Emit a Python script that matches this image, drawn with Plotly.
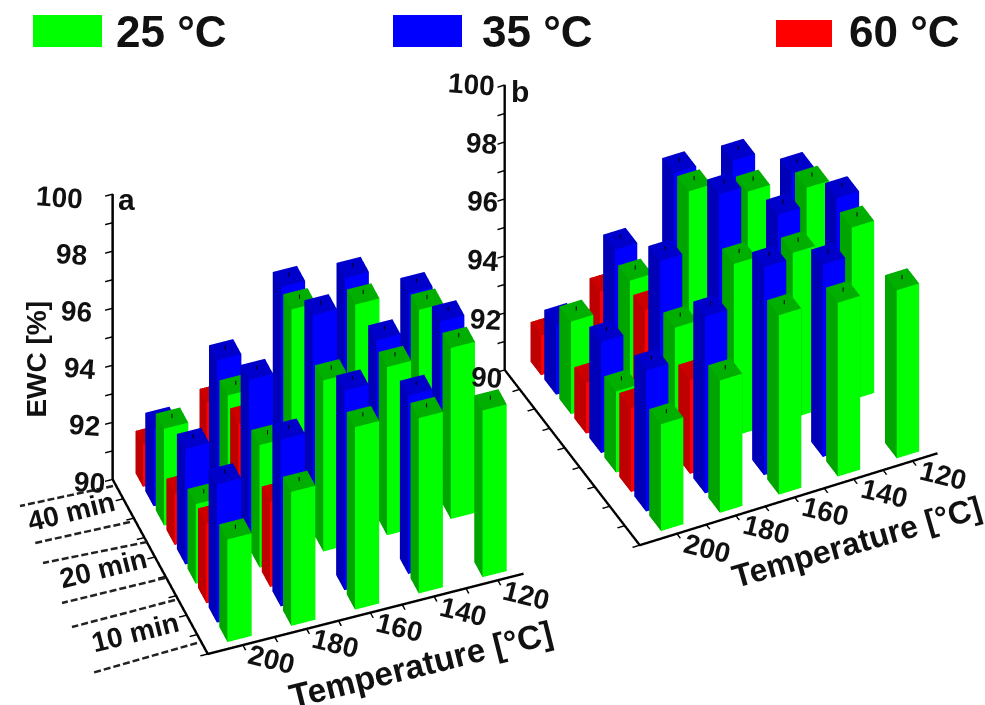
import plotly.graph_objects as go

temperatures = [200, 180, 160, 140, 120]
times = ["10 min", "20 min", "40 min"]
series_names = ["25 °C", "35 °C", "60 °C"]
z_ticks = [90, 92, 94, 96, 98, 100]

# EWC [%], rows = time (10, 20, 40 min), columns = temperature
a_25 = [[93.6, 94.7, 96.4, 96.15, 95.85],
        [92.8, 94.3, 96.0, 95.9, 96.0],
        [93.4, 94.0, 96.45, 96.05, 95.3]]
a_35 = [[94.85, 95.85, 97.0, 96.25, None],
        [94.05, 95.9, 97.6, 96.15, 96.25],
        [92.75, 94.55, 96.55, 96.3, 95.2]]
a_60 = [[92.8, 93.0, None, None, None],
        [91.8, 93.7, None, None, None],
        [91.5, 92.4, None, None, None]]
b_25 = [[93.75, 94.65, 96.3, 96.1, 95.9],
        [92.85, 94.45, 96.05, 95.8, 96.05],
        [93.25, 94.05, 96.55, 95.9, 95.4]]
b_35 = [[94.95, 96.2, 97.3, 96.75, None],
        [93.9, 96.1, 97.8, 96.45, 96.4],
        [92.45, 94.45, 96.5, 96.3, 95.2]]
b_60 = [[92.95, 93.3, None, None, None],
        [91.8, 93.7, None, None, None],
        [91.4, 92.3, None, None, None]]
error_size = 0.15

FRONT = ["rgb(0,255,0)", "rgb(0,0,255)", "rgb(255,0,0)"]
SIDE = ["rgb(0,165,0)", "rgb(0,0,185)", "rgb(190,0,0)"]
TOP = ["rgb(0,175,0)", "rgb(0,0,205)", "rgb(205,0,0)"]
FONT = "Liberation Sans"
HALF_X, HALF_Y = 0.19, 0.39
Y_OFFSET = 0.7


def bars(table, s, scene):
    xs, ys, zs, i, j, k, fc = [], [], [], [], [], [], []
    ex, ey, ez = [], [], []
    for g, row in enumerate(table):
        for c, v in enumerate(row):
            if v is None:
                continue
            yc = g * 3 + s + Y_OFFSET
            n = len(xs)
            for zz in (90, v):
                for (dx, dy) in ((-1, -1), (1, -1), (1, 1), (-1, 1)):
                    xs.append(c + dx * HALF_X)
                    ys.append(yc + dy * HALF_Y)
                    zs.append(zz)
            faces = [((0, 1, 5), FRONT[s]), ((0, 5, 4), FRONT[s]),
                     ((0, 3, 7), SIDE[s]), ((0, 7, 4), SIDE[s]),
                     ((4, 5, 6), TOP[s]), ((4, 6, 7), TOP[s]),
                     ((1, 2, 6), SIDE[s]), ((1, 6, 5), SIDE[s]),
                     ((3, 2, 6), SIDE[s]), ((3, 6, 7), SIDE[s])]
            for (p, q, r), col in faces:
                i.append(n + p); j.append(n + q); k.append(n + r); fc.append(col)
            ex += [c, c, None]; ey += [yc, yc, None]; ez += [v, v + error_size, None]
    return [go.Mesh3d(x=xs, y=ys, z=zs, i=i, j=j, k=k, facecolor=fc, flatshading=True,
                      lighting=dict(ambient=1, diffuse=0, specular=0, fresnel=0),
                      hoverinfo="skip", showscale=False, scene=scene, name=series_names[s]),
            go.Scatter3d(x=ex, y=ey, z=ez, mode="lines", line=dict(color="black", width=2),
                         hoverinfo="skip", showlegend=False, scene=scene)]


def label(x, y, z, text, size=28, angle=0, xs=0, ys=0, xa="center", ya="middle"):
    return dict(x=x, y=y, z=z, text="<b>%s</b>" % text, showarrow=False, textangle=angle,
                xshift=xs, yshift=ys, xanchor=xa, yanchor=ya,
                font=dict(family=FONT, size=size, color="#111"))


def axis(vals, rng):
    return dict(range=rng, tickvals=vals, ticktext=[""] * len(vals), showticklabels=False,
                showgrid=False, zeroline=False, showbackground=False, showspikes=False,
                showline=True, linecolor="black", linewidth=5, ticks="outside", ticklen=8,
                tickwidth=3, tickcolor="black", title=dict(text=""), mirror=False)


def scene(dom_x, dom_y, eye, aspect, center_z, x_range, annotations):
    return dict(domain=dict(x=dom_x, y=dom_y),
                xaxis=axis([v * 0.5 for v in range(0, 9)], x_range),
                yaxis=axis(list(range(0, 10)), [0, 9]),
                zaxis=axis(list(range(90, 101)), [90, 100]),
                aspectmode="manual", aspectratio=dict(x=aspect[0], y=aspect[1], z=aspect[2]),
                camera=dict(eye=dict(x=eye[0], y=eye[1], z=eye[2] + center_z), up=dict(x=0, y=0, z=1),
                            center=dict(x=0, y=0, z=center_z), projection=dict(type="orthographic")),
                bgcolor="rgba(0,0,0,0)", annotations=annotations)


def annots(ttl_size, ttl_angle, ttl_shift, z_base, z_slope, z_ys, tick_shift, ewc):
    out = []
    for v in z_ticks:
        out.append(label(-0.5, 9, v, str(v), xs=z_base - (v - 90) * z_slope,
                         ys=z_ys[0] + (v - 90) * z_ys[1], xa="right", angle=4))
    for c, t in enumerate(temperatures):
        out.append(label(c, 0, 90, str(t), angle=14, xs=tick_shift[0], ys=tick_shift[1]))
    out.append(label(2.2, 0, 90, "Temperature [°C]", size=ttl_size, angle=ttl_angle,
                     xs=ttl_shift[0], ys=ttl_shift[1]))
    if ewc:
        out.append(label(-0.5, 9, 94.2, "EWC [%]", size=28, angle=-90, xs=-79))
        for g, t in enumerate(times):
            out.append(label(-0.5, g * 3 + 1.5, 90, t, angle=-14, xs=-60, ys=[-9, -3, -4][g]))
    return out


fig = go.Figure()
for s, tb in enumerate([a_25, a_35, a_60]):
    fig.add_traces(bars(tb, s, "scene"))
for s, tb in enumerate([b_25, b_35, b_60]):
    fig.add_traces(bars(tb, s, "scene2"))

dash_lines = [(113, 486, 20, 506), (130, 522, 35, 543), (147, 542, 43, 563),
              (165, 578, 62, 603), (175, 600, 72, 627), (197, 643, 92, 673)]
W, H = 985, 705
shapes = [dict(type="line", xref="paper", yref="paper", x0=a / W, y0=1 - b / H, x1=c / W, y1=1 - d / H,
               line=dict(color="#222", width=2.5, dash="7px,3px")) for a, b, c, d in dash_lines]
swatches = [(33, 102, 15, 47), (393, 462, 15, 47), (776, 832, 20, 47)]
for (x0, x1, y0, y1), col in zip(swatches, FRONT):
    shapes.append(dict(type="rect", xref="paper", yref="paper", x0=x0 / W, x1=x1 / W,
                       y0=1 - y0 / H, y1=1 - y1 / H, fillcolor=col, line=dict(width=0)))
notes = []
for x, t in zip((114, 480, 847), series_names):
    notes.append(dict(x=x / W, y=1 - 32 / H, xref="paper", yref="paper", xanchor="left", yanchor="middle",
                      text="<b>%s</b>" % t, showarrow=False, font=dict(family=FONT, size=44, color="#111")))
for x, y, t in ((126, 200, "a"), (520, 92, "b")):
    notes.append(dict(x=x / W, y=1 - y / H, xref="paper", yref="paper", xanchor="center", yanchor="middle",
                      text="<b>%s</b>" % t, showarrow=False, font=dict(family=FONT, size=30, color="#111")))

fig.update_layout(
    width=W, height=H, margin=dict(l=0, r=0, t=0, b=0), paper_bgcolor="white", showlegend=False,
    shapes=shapes, annotations=notes,
    scene=scene([0.0427, 0.603], [0.064, 0.847], (-0.418, -1.123, 1.121), (1.22, 0.988, 1.415), 0,
                [-0.55, 4.4], annots(33.5, -14, (38, -55), -8, 2.2, (-4, 0), (29, -15), True)),
    scene2=scene([0.464, 1.0], [0.12, 1.0], (-0.57, -1.169, 1.063), (1.068, 0.994, 1.187), -0.17,
                 [-0.63, 4.42], annots(32, -16, (50, -48), -7, 0.7, (-10, 0.8), (31, -14), False)),
)
fig.write_html("out.html", config=dict(displayModeBar=False),
               post_script="document.body.style.margin='0';")
